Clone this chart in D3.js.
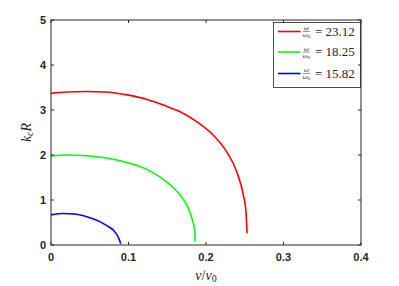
<!DOCTYPE html>
<html>
<head>
<meta charset="utf-8">
<script src="https://cdn.jsdelivr.net/npm/d3@7"></script>
<style>
body { margin: 0; background: #fff; }
</style>
</head>
<body>
<script>
// curves: nu/nu0 vs k_c R
var redX = [0, 0.02, 0.045, 0.07, 0.1, 0.125, 0.145, 0.168, 0.188, 0.2094, 0.2267, 0.2396, 0.2482, 0.2516, 0.2529];
var redY = [3.37, 3.40, 3.41, 3.40, 3.33, 3.23, 3.11, 2.95, 2.74, 2.44, 2.07, 1.63, 1.11, 0.74, 0.26];
var greenX = [0, 0.02, 0.042, 0.065, 0.085, 0.105, 0.125, 0.14, 0.155, 0.167, 0.176, 0.182, 0.1855, 0.186];
var greenY = [1.98, 2.00, 1.99, 1.95, 1.89, 1.80, 1.67, 1.52, 1.32, 1.10, 0.86, 0.58, 0.30, 0.07];
var blueX = [0, 0.016, 0.03, 0.042, 0.053, 0.063, 0.072, 0.0805, 0.086, 0.089, 0.0899];
var blueY = [0.67, 0.70, 0.69, 0.65, 0.59, 0.52, 0.43, 0.33, 0.20, 0.08, 0.03];
var legendVals = ['23.12', '18.25', '15.82'];
var xTicks = [0, 0.1, 0.2, 0.3, 0.4];
var yTicks = [0, 1, 2, 3, 4, 5];

var w = 399, h = 286;
var pLeft = 51, pRight = 361, pTop = 20, pBottom = 245;
var axisColor = '#262626';

var svg = d3.select('body').append('svg')
    .attr('width', w)
    .attr('height', h);

var x = d3.scaleLinear().domain([0, 0.4]).range([pLeft, pRight]);
var y = d3.scaleLinear().domain([0, 5]).range([pBottom, pTop]);

var series = [
    {xs: redX, ys: redY, color: '#ff0000'},
    {xs: greenX, ys: greenY, color: '#00ff00'},
    {xs: blueX, ys: blueY, color: '#0000ff'}
];

var line = d3.line()
    .x(function(d){ return x(d[0]); })
    .y(function(d){ return y(d[1]); })
    .curve(d3.curveMonotoneX);

svg.selectAll('path.curve')
    .data(series)
    .enter()
    .append('path')
    .attr('class', 'curve')
    .attr('d', function(s){ return line(d3.zip(s.xs, s.ys)); })
    .attr('fill', 'none')
    .attr('stroke', function(s){ return s.color; })
    .attr('stroke-width', 1.6);

// legend box
var lg = svg.append('g');
lg.append('rect')
    .attr('x', 273.5).attr('y', 22.5)
    .attr('width', 87).attr('height', 65)
    .attr('fill', '#fff')
    .attr('stroke', axisColor)
    .attr('stroke-width', 0.8);
var rows = [31.5, 52, 73.5];
series.forEach(function(s, i){
    var ry = rows[i];
    lg.append('line')
        .attr('x1', 278).attr('x2', 300.5)
        .attr('y1', ry).attr('y2', ry)
        .attr('stroke', s.color).attr('stroke-width', 1.6);
    lg.append('text')
        .attr('x', 306.5).attr('y', ry - 1.5)
        .attr('text-anchor', 'middle')
        .attr('font-family', 'Liberation Serif, serif')
        .attr('font-style', 'italic')
        .attr('font-size', '7px')
        .attr('fill', axisColor)
        .text('ω');
    lg.append('line')
        .attr('x1', 303).attr('x2', 310)
        .attr('y1', ry).attr('y2', ry)
        .attr('stroke', axisColor).attr('stroke-width', 0.5);
    var den = lg.append('text')
        .attr('x', 306.5).attr('y', ry + 5.5)
        .attr('text-anchor', 'middle')
        .attr('font-family', 'Liberation Serif, serif')
        .attr('font-size', '7px')
        .attr('fill', axisColor);
    den.append('tspan').attr('font-style', 'italic').text('ω');
    den.append('tspan').attr('font-size', '5px').attr('dy', 1).text('0');
    lg.append('text')
        .attr('x', 315).attr('y', ry + 4)
        .attr('font-family', 'Liberation Serif, serif')
        .attr('font-size', '13px')
        .attr('fill', axisColor)
        .text('= ' + legendVals[i]);
});

// axes box with inward ticks on all four sides
var ax = svg.append('g')
    .attr('stroke', axisColor)
    .attr('stroke-width', 1);
ax.append('rect')
    .attr('x', pLeft).attr('y', pTop)
    .attr('width', pRight - pLeft).attr('height', pBottom - pTop)
    .attr('fill', 'none');
ax.selectAll('line.xt')
    .data(xTicks)
    .enter()
    .append('line')
    .attr('class', 'xt')
    .attr('x1', function(d){ return x(d); })
    .attr('x2', function(d){ return x(d); })
    .attr('y1', pBottom).attr('y2', pBottom - 3);
ax.selectAll('line.xt2')
    .data(xTicks)
    .enter()
    .append('line')
    .attr('class', 'xt2')
    .attr('x1', function(d){ return x(d); })
    .attr('x2', function(d){ return x(d); })
    .attr('y1', pTop).attr('y2', pTop + 3);
ax.selectAll('line.yt')
    .data(yTicks)
    .enter()
    .append('line')
    .attr('class', 'yt')
    .attr('y1', function(d){ return y(d); })
    .attr('y2', function(d){ return y(d); })
    .attr('x1', pLeft).attr('x2', pLeft + 3);
ax.selectAll('line.yt2')
    .data(yTicks)
    .enter()
    .append('line')
    .attr('class', 'yt2')
    .attr('y1', function(d){ return y(d); })
    .attr('y2', function(d){ return y(d); })
    .attr('x1', pRight).attr('x2', pRight - 3);

// tick labels
svg.selectAll('text.xl')
    .data(xTicks)
    .enter()
    .append('text')
    .attr('class', 'xl')
    .attr('x', function(d){ return x(d); })
    .attr('y', pBottom + 16)
    .attr('text-anchor', 'middle')
    .attr('font-family', 'Liberation Sans, Arial, sans-serif')
    .attr('font-weight', 'bold')
    .attr('font-size', '11px')
    .attr('fill', axisColor)
    .text(function(d){ return d === 0 ? '0' : d3.format('.1f')(d); });
svg.selectAll('text.yl')
    .data(yTicks)
    .enter()
    .append('text')
    .attr('class', 'yl')
    .attr('x', pLeft - 5)
    .attr('y', function(d){ return y(d) + 4; })
    .attr('text-anchor', 'end')
    .attr('font-family', 'Liberation Sans, Arial, sans-serif')
    .attr('font-weight', 'bold')
    .attr('font-size', '11px')
    .attr('fill', axisColor)
    .text(function(d){ return d; });

// axis titles
var xt = svg.append('text')
    .attr('x', (pLeft + pRight) / 2)
    .attr('y', 280)
    .attr('text-anchor', 'middle')
    .attr('font-family', 'Liberation Serif, serif')
    .attr('font-size', '14px')
    .attr('fill', axisColor);
xt.append('tspan').attr('font-style', 'italic').text('ν');
xt.append('tspan').text('/');
xt.append('tspan').attr('font-style', 'italic').text('ν');
xt.append('tspan').attr('font-size', '10px').attr('dy', 2).text('0');

var yt = svg.append('text')
    .attr('transform', 'translate(31,' + ((pTop + pBottom) / 2) + ') rotate(-90)')
    .attr('text-anchor', 'middle')
    .attr('font-family', 'Liberation Serif, serif')
    .attr('font-size', '14px')
    .attr('fill', axisColor);
yt.append('tspan').attr('font-style', 'italic').text('k');
yt.append('tspan').attr('font-style', 'italic').attr('font-size', '10px').attr('dy', 2).text('c');
yt.append('tspan').attr('font-style', 'italic').attr('dy', -2).text('R');
</script>
</body>
</html>
